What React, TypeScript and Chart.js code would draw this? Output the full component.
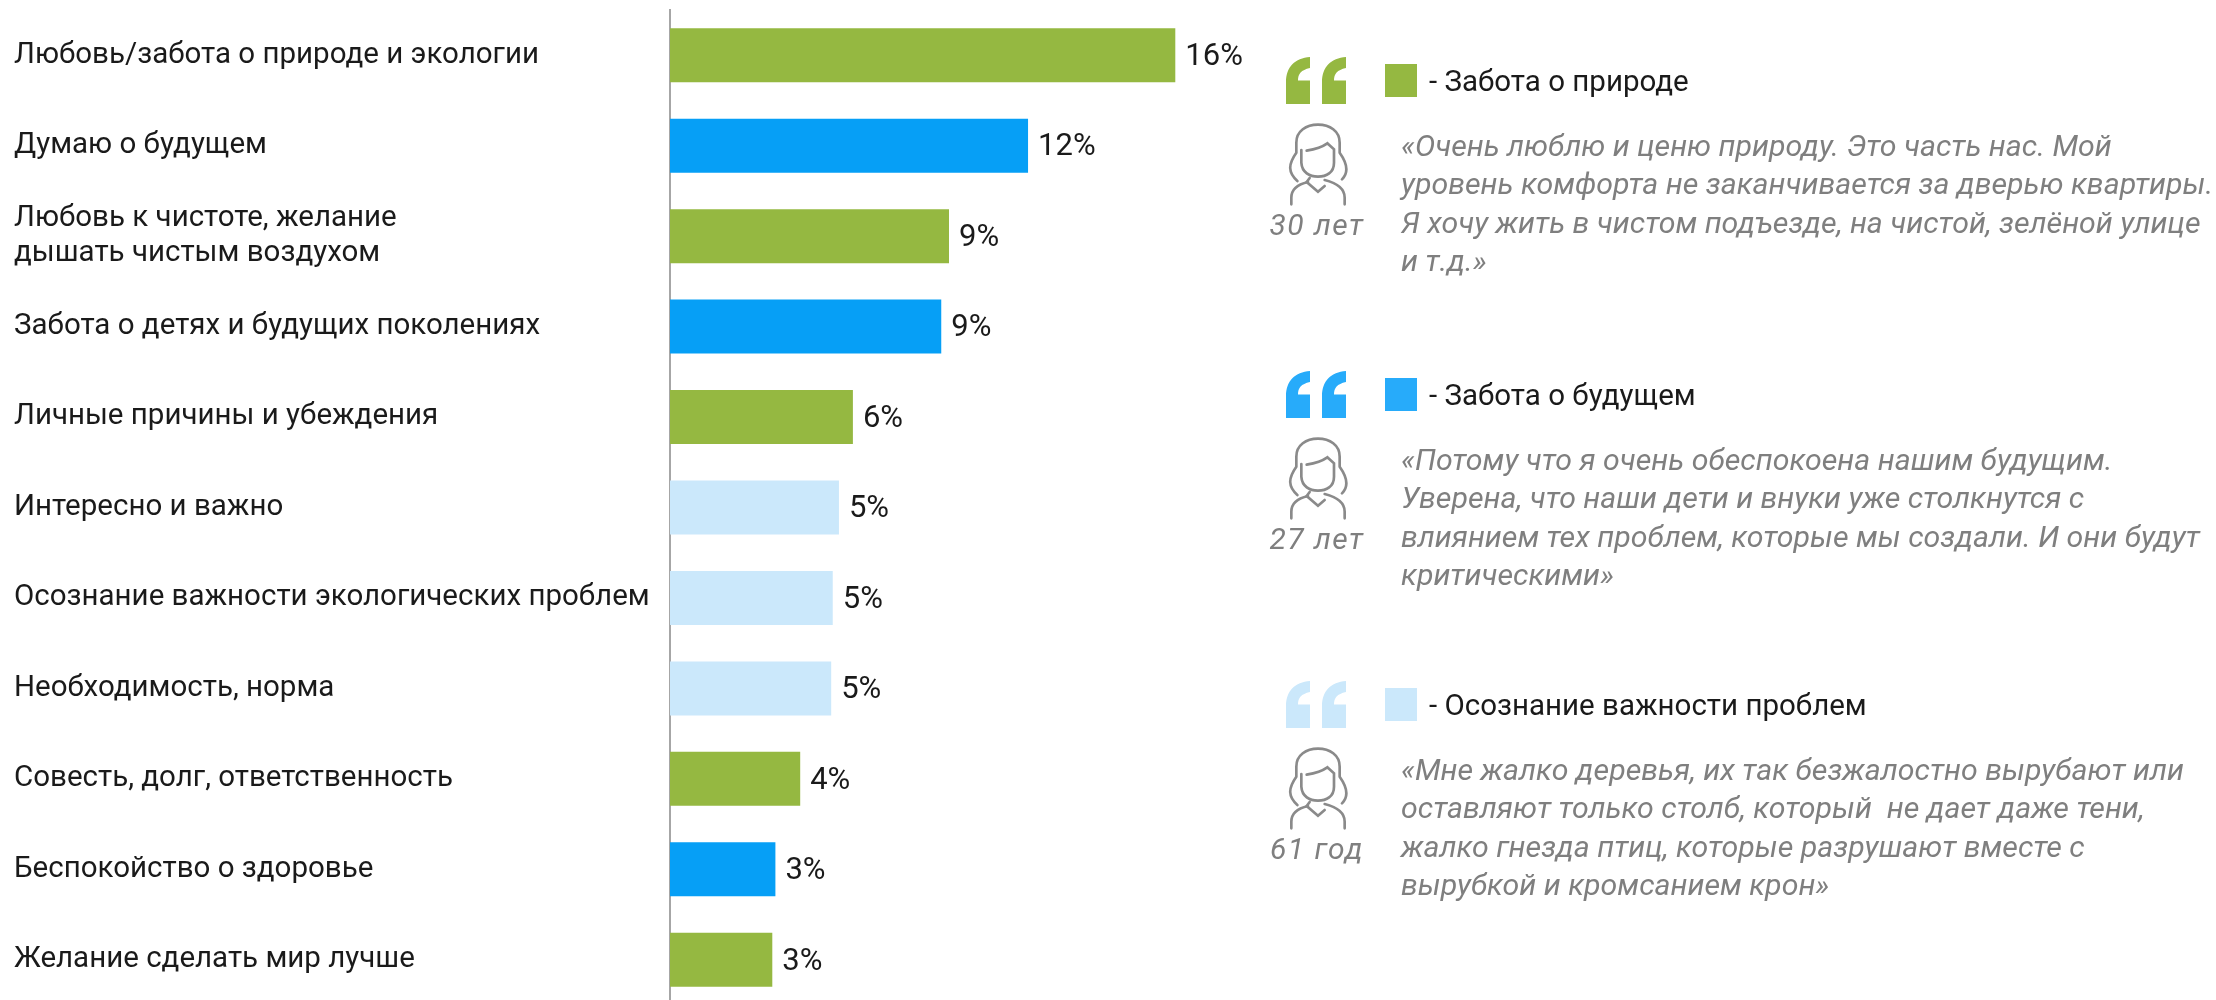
import React, { useEffect, useRef } from "react";
import { Chart, registerables } from "chart.js";

Chart.register(...registerables);

const categories: (string | string[])[] = [
  "Любовь/забота о природе и экологии",
  "Думаю о будущем",
  ["Любовь к чистоте, желание", "дышать чистым воздухом"],
  "Забота о детях и будущих поколениях",
  "Личные причины и убеждения",
  "Интересно и важно",
  "Осознание важности экологических проблем",
  "Необходимость, норма",
  "Совесть, долг, ответственность",
  "Беспокойство о здоровье",
  "Желание сделать мир лучше",
];
const values = [16.3, 11.55, 9.0, 8.75, 5.9, 5.45, 5.25, 5.2, 4.2, 3.4, 3.3];
const valueLabels = ["16%", "12%", "9%", "9%", "6%", "5%", "5%", "5%", "4%", "3%", "3%"];
const barKinds = ["nature", "future", "nature", "future", "nature", "aware", "aware", "aware", "nature", "future", "nature"];

const barColors: Record<string, string> = { nature: "#95B841", future: "#069FF6", aware: "#CBE8FB" };

const legendTitles = ["- Забота о природе", "- Забота о будущем", "- Осознание важности проблем"];
const legendColors = ["#95B841", "#27ABFA", "#CBE8FB"];
const ages = ["30 лет", "27 лет", "61 год"];
const quotes = [
  [
    "«Очень люблю и ценю природу. Это часть нас. Мой",
    "уровень комфорта не заканчивается за дверью квартиры.",
    "Я хочу жить в чистом подъезде, на чистой, зелёной улице",
    "и т.д.»",
  ],
  [
    "«Потому что я очень обеспокоена нашим будущим.",
    "Уверена, что наши дети и внуки уже столкнутся с",
    "влиянием тех проблем, которые мы создали. И они будут",
    "критическими»",
  ],
  [
    "«Мне жалко деревья, их так безжалостно вырубают или",
    "оставляют только столб, который  не дает даже тени,",
    "жалко гнезда птиц, которые разрушают вместе с",
    "вырубкой и кромсанием крон»",
  ],
];
const blockOffsets = [0, 314, 624];

const FONT = "Roboto, 'Noto Sans', sans-serif";
const INK = "#1a1a1a";
const GREY = "#7f7f7f";

const valueLabelPlugin = {
  id: "valueLabels",
  afterDatasetsDraw(chart: any) {
    const { ctx } = chart;
    const meta = chart.getDatasetMeta(0);
    ctx.save();
    ctx.font = `31px ${FONT}`;
    ctx.fillStyle = INK;
    ctx.textAlign = "left";
    ctx.textBaseline = "middle";
    meta.data.forEach((bar: any, i: number) => {
      ctx.fillText(valueLabels[i], bar.x + 10, bar.y + 2);
    });
    ctx.restore();
  },
};

function QuoteMark({ color }: { color: string }) {
  const one = "M24 0 V11 C15 13 12 17 12 23.5 H24 V47 H0 V25 C0 10 9 1 24 0 Z";
  return (
    <svg width={60} height={47} style={{ position: "absolute", left: 0, top: 0 }}>
      <path d={one} fill={color} />
      <path d={one} fill={color} transform="translate(36 0)" />
    </svg>
  );
}

function Person() {
  return (
    <svg
      width={64}
      height={86}
      viewBox="44 218 192 258"
      style={{ position: "absolute", left: 0, top: 0 }}
      fill="none"
      stroke="#8a8a8a"
      strokeWidth={8}
      strokeLinecap="round"
    >
      <path d="M78 395 C50 370 50 345 75 310 V280 C75 245 105 226 140 226 C175 226 205 245 205 280 V310 C230 345 232 370 212 390" />
      <path d="M90 302 V340 C92 370 115 382 140 382 C165 382 188 370 188 340 V300 L168 282 C150 295 130 300 106 304" />
      <path d="M60 465 V445 C60 420 80 405 110 398" />
      <path d="M220 465 V445 C220 420 200 402 160 392" />
      <path d="M115 386 L106 398 L140 427 L160 410" />
    </svg>
  );
}

function SidePanel() {
  const abs = (left: number, top: number): React.CSSProperties => ({ position: "absolute", left, top, whiteSpace: "pre" });
  return (
    <>
      {legendTitles.map((title, b) => {
        const y = blockOffsets[b];
        return (
          <React.Fragment key={title}>
            <div style={abs(1286, 57 + y)}>
              <QuoteMark color={legendColors[b]} />
            </div>
            <div style={{ position: "absolute", left: 1385, top: 64 + y, width: 32, height: 33, background: legendColors[b] }} />
            <div style={{ ...abs(1429, 81 + y - 20), font: `29.5px/40px ${FONT}`, color: INK }}>{title}</div>
            <div style={abs(1286, 122 + y)}>
              <Person />
            </div>
            <div
              style={{
                position: "absolute",
                left: 1257,
                width: 120,
                top: 225 + y - 20,
                textAlign: "center",
                font: `italic 30px/40px ${FONT}`,
                letterSpacing: 1.5,
                color: GREY,
              }}
            >
              {ages[b]}
            </div>
            {quotes[b].map((line, i) => (
              <div
                key={i}
                style={{ ...abs(1401, 146 + y + i * 38.3 - 20), font: `italic 30.3px/40px ${FONT}`, color: GREY }}
              >
                {line}
              </div>
            ))}
          </React.Fragment>
        );
      })}
    </>
  );
}

export default function App() {
  const ref = useRef<HTMLCanvasElement>(null);
  useEffect(() => {
    const chart = new Chart(ref.current!, {
      type: "bar",
      data: {
        labels: categories as any,
        datasets: [
          {
            data: values,
            backgroundColor: barKinds.map((k) => barColors[k]),
            barPercentage: 0.597,
            categoryPercentage: 1,
          },
        ],
      },
      options: {
        indexAxis: "y",
        animation: false,
        responsive: false,
        layout: { padding: { left: 14, top: 10, right: 306, bottom: 0 } },
        plugins: { legend: { display: false }, tooltip: { enabled: false }, title: { display: false } },
        scales: {
          x: { display: false, min: 0, max: 40 },
          y: {
            afterFit: (s: any) => {
              s.width = 656;
              s.paddingTop = 0;
              s.paddingBottom = 0;
            },
            grid: { display: false, drawTicks: false },
            border: { display: true, color: "#a6a6a6", width: 2 },
            ticks: {
              autoSkip: false,
              crossAlign: "far",
              padding: 0,
              color: INK,
              font: { family: FONT, size: 29.5, lineHeight: 1.2 },
            },
          },
        },
      } as any,
      plugins: [valueLabelPlugin],
    });
    return () => chart.destroy();
  }, []);
  return (
    <div style={{ position: "absolute", left: 0, top: 0, width: 2216, height: 1000, overflow: "hidden", background: "#fff" }}>
      <canvas ref={ref} width={2216} height={1005} style={{ position: "absolute", left: 0, top: 0 }} />
      <SidePanel />
    </div>
  );
}
